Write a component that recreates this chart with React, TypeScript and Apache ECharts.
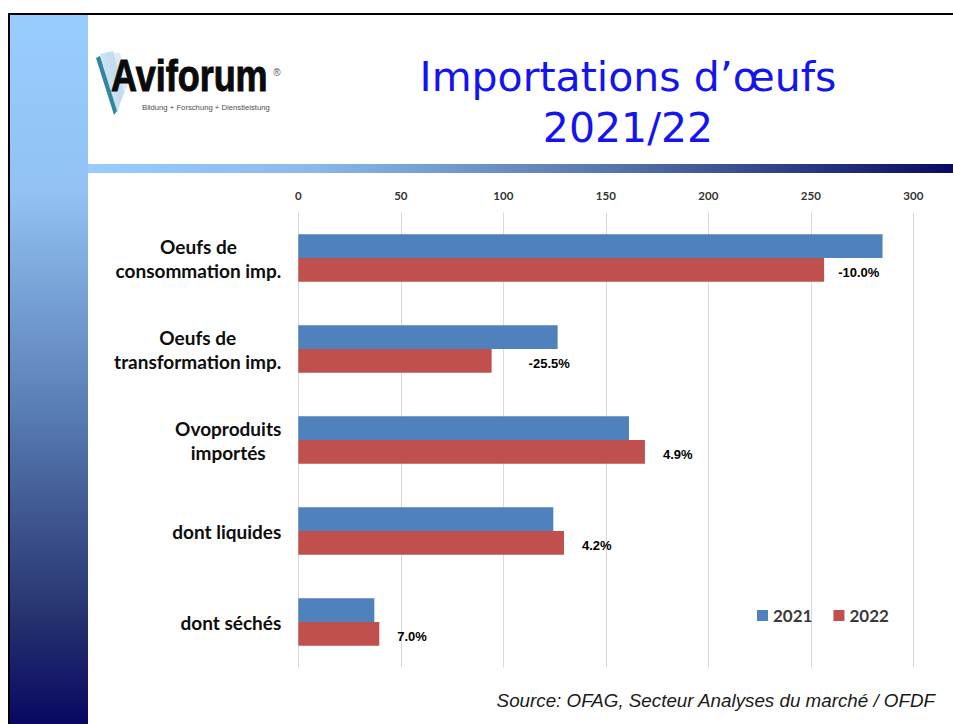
import React, { useEffect, useRef } from "react";
import * as echarts from "echarts";

const categories = [
  "Oeufs de\nconsommation imp.",
  "Oeufs de\ntransformation imp.",
  "Ovoproduits\nimportés",
  "dont liquides",
  "dont séchés",
];
const values2021 = [285, 126.5, 161.3, 124.4, 37.1];
const values2022 = [256.5, 94.3, 169.1, 129.6, 39.5];
const changeLabels = ["-10.0%", "-25.5%", "4.9%", "4.2%", "7.0%"];
const seriesNames = ["2021", "2022"];
const axisMin = 0;
const axisMax = 300;
const axisInterval = 50;
const labelOffsetX = [9, 32, 13, 13, 13];

const titleLines = ["Importations d\u2019\u0153ufs", "2021/22"];
const sourceText = "Source: OFAG, Secteur Analyses du marché / OFDF";

export default function App() {
  const ref = useRef<HTMLDivElement>(null);

  useEffect(() => {
    if (!ref.current) return;
    const chart = echarts.init(ref.current, undefined, { renderer: "svg" });

    const rich: Record<string, any> = {
      c: {
        align: "center",
        fontFamily: "Lato",
        fontWeight: "bold",
        fontSize: 19,
        lineHeight: 24,
        color: "#0d0d0d",
      },
    };

    const option: any = {
      animation: false,
      backgroundColor: "#ffffff",
      grid: { left: 298.3, right: 39.7, top: 212.5, bottom: 56.5, containLabel: false },
      xAxis: {
        type: "value",
        position: "top",
        min: axisMin,
        max: axisMax,
        interval: axisInterval,
        axisLine: { show: false },
        axisTick: { show: false },
        splitLine: { show: true, lineStyle: { color: "#d9d9d9", width: 1 } },
        axisLabel: {
          margin: 11,
          fontFamily: "Lato",
          fontWeight: "bold",
          fontSize: 11.5,
          color: "#333333",
        },
      },
      yAxis: {
        type: "category",
        inverse: true,
        data: categories,
        axisLine: { show: false },
        axisTick: { show: false },
        axisLabel: {
          margin: 17,
          align: "right",
          formatter: (v: string) =>
            v
              .split("\n")
              .map((l) => `{c|${l}}`)
              .join("\n"),
          rich,
        },
      },
      legend: {
        left: 757,
        top: 607,
        padding: 0,
        itemWidth: 11,
        itemHeight: 11,
        itemGap: 21,
        icon: "rect",
        data: seriesNames,
        textStyle: {
          fontFamily: "Lato",
          fontWeight: "bold",
          fontSize: 17,
          color: "#3a3a3a",
        },
      },
      series: [
        {
          name: seriesNames[0],
          type: "bar",
          data: values2021,
          barGap: "0%",
          barCategoryGap: "48%",
          itemStyle: { color: "#4f81bd" },
        },
        {
          name: seriesNames[1],
          type: "bar",
          data: values2022.map((v, i) => ({
            value: v,
            label: { offset: [labelOffsetX[i], 3] },
          })),
          barGap: "0%",
          barCategoryGap: "48%",
          itemStyle: { color: "#c0504d" },
          label: {
            show: true,
            position: "right",
            distance: 5,
            formatter: (p: any) => changeLabels[p.dataIndex],
            fontFamily: "Liberation Sans",
            fontWeight: "bold",
            fontSize: 13,
            color: "#000000",
          },
        },
      ],
      graphic: [
        {
          type: "rect",
          shape: { x: 10, y: 15, width: 78, height: 709 },
          style: {
            fill: {
              type: "linear",
              x: 0,
              y: 0,
              x2: 0,
              y2: 1,
              colorStops: [
                { offset: 0, color: "#99ccff" },
                { offset: 0.25, color: "#92c2f4" },
                { offset: 0.55, color: "#5a7fb7" },
                { offset: 0.85, color: "#26326e" },
                { offset: 1, color: "#080862" },
              ],
            },
          },
          silent: true,
        },
        {
          type: "rect",
          shape: { x: 88, y: 164, width: 865, height: 9 },
          style: {
            fill: {
              type: "linear",
              x: 0,
              y: 0,
              x2: 1,
              y2: 0,
              colorStops: [
                { offset: 0, color: "#99ccff" },
                { offset: 0.25, color: "#8cb9ec" },
                { offset: 0.6, color: "#5678ab" },
                { offset: 1, color: "#0a0a60" },
              ],
            },
          },
          silent: true,
        },
        { type: "rect", shape: { x: 8, y: 13, width: 945, height: 2 }, style: { fill: "#000" }, silent: true },
        { type: "rect", shape: { x: 8, y: 13, width: 2, height: 711 }, style: { fill: "#000" }, silent: true },
        {
          type: "polygon",
          shape: { points: [[100, 54], [113, 51], [124, 92], [117, 113]] },
          style: { fill: "rgba(160,200,230,0.55)" },
          silent: true,
        },
        {
          type: "polygon",
          shape: { points: [[106, 52], [120, 53], [128, 85], [119, 105]] },
          style: { fill: "rgba(190,215,238,0.5)" },
          silent: true,
        },
        {
          type: "polygon",
          shape: { points: [[96, 58], [100, 56], [117, 111], [114, 115]] },
          style: { fill: "#2f86a0" },
          silent: true,
        },
        {
          type: "text",
          x: 111,
          y: 98,
          scaleX: 0.8,
          style: {
            text: "Aviforum",
            fontFamily: "Liberation Sans",
            fontWeight: "bold",
            fontSize: 45,
            fill: "#0a0a0a",
            stroke: "#0a0a0a",
            lineWidth: 1,
            textAlign: "left",
            verticalAlign: "bottom",
          },
          silent: true,
        },
        {
          type: "text",
          x: 277,
          y: 72,
          style: {
            text: "®",
            fontFamily: "Liberation Sans",
            fontSize: 10,
            fill: "#555",
            textAlign: "center",
            verticalAlign: "middle",
          },
          silent: true,
        },
        {
          type: "text",
          x: 142,
          y: 107,
          style: {
            text: "Bildung + Forschung + Dienstleistung",
            fontFamily: "Liberation Sans",
            fontSize: 7.7,
            fill: "#4d4d4d",
            textAlign: "left",
            verticalAlign: "middle",
          },
          silent: true,
        },
        {
          type: "text",
          x: 628,
          y: 77,
          style: {
            text: titleLines[0],
            fontFamily: "DejaVu Sans",
            fontSize: 41,
            fill: "#1414f0",
            textAlign: "center",
            verticalAlign: "middle",
          },
          silent: true,
        },
        {
          type: "text",
          x: 628,
          y: 128,
          style: {
            text: titleLines[1],
            fontFamily: "DejaVu Sans",
            fontSize: 41,
            fill: "#1414f0",
            textAlign: "center",
            verticalAlign: "middle",
          },
          silent: true,
        },
        {
          type: "text",
          x: 935,
          y: 700,
          style: {
            text: sourceText,
            fontFamily: "Liberation Sans",
            fontStyle: "italic",
            fontSize: 18.8,
            fill: "#1a1a1a",
            textAlign: "right",
            verticalAlign: "middle",
          },
          silent: true,
        },
      ],
    };

    chart.setOption(option);
    return () => chart.dispose();
  }, []);

  return (
    <div
      ref={ref}
      style={{ position: "fixed", left: 0, top: 0, width: 953, height: 724 }}
    />
  );
}
